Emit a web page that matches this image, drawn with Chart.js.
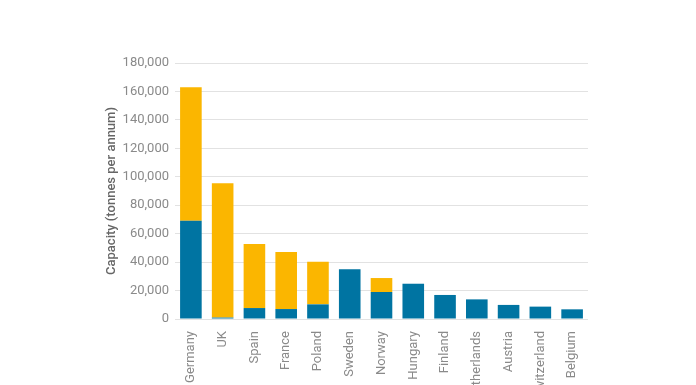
<!DOCTYPE html>
<html>
<head>
<meta charset="utf-8">
<script src="https://cdn.jsdelivr.net/npm/chart.js@4/dist/chart.umd.min.js"></script>
<style>
html,body{margin:0;padding:0;background:#fff;overflow:hidden;}
#wrap{width:696px;height:385px;position:relative;}
</style>
</head>
<body>
<div id="wrap"><canvas id="c" width="696" height="385"></canvas></div>
<script>
const categories = ["Germany","UK","Spain","France","Poland","Sweden","Norway","Hungary","Finland","Netherlands","Austria","Switzerland","Belgium"];
const blueValues = [69000, 1000, 7700, 7000, 10300, 35000, 19000, 24800, 16900, 13800, 9900, 8700, 6800];
const yellowValues = [94000, 94400, 45000, 40100, 30000, 0, 9800, 0, 0, 0, 0, 0, 0];
const yTickMax = 180000;
const yTickStep = 20000;

new Chart(document.getElementById('c'), {
  type: 'bar',
  data: {
    labels: categories,
    datasets: [
      { label: 'Operational', data: blueValues, backgroundColor: '#0074a2', borderWidth: 0 },
      { label: 'Planned', data: yellowValues, backgroundColor: '#fbb600', borderWidth: 0 }
    ]
  },
  options: {
    responsive: false,
    animation: false,
    layout: { padding: { top: 63, left: 104, right: 108, bottom: 0 } },
    plugins: { legend: { display: false }, tooltip: { enabled: false } },
    datasets: { bar: { categoryPercentage: 1, barPercentage: 0.68 } },
    scales: {
      x: {
        stacked: true,
        grid: { display: false, drawTicks: false },
        border: { display: false },
        ticks: { maxRotation: 90, minRotation: 90, padding: 12, autoSkip: false,
          color: '#8a8a8a', font: { family: 'Roboto', size: 13 } },
        afterFit: (s) => { s.height = 66; }
      },
      y: {
        stacked: true,
        min: 0, max: yTickMax,
        grid: { color: '#e2e2e2', drawTicks: false, lineWidth: 1 },
        border: { display: false },
        ticks: { stepSize: yTickStep, padding: 6, color: '#8a8a8a',
          font: { family: 'Roboto', size: 13 },
          callback: (v) => v.toLocaleString('en-US') },
        title: { display: true, text: 'Capacity (tonnes per annum)', color: '#666',
          font: { family: 'Roboto', size: 13, weight: '500' }, padding: 0 },
        afterFit: (s) => { s.width = 71; }
      }
    }
  }
});
</script>
</body>
</html>
